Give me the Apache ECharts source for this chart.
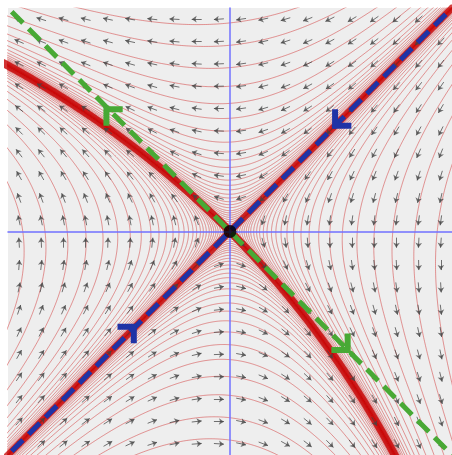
<!DOCTYPE html>
<html>
<head>
<meta charset="utf-8">
<script src="https://cdn.jsdelivr.net/npm/echarts@6/dist/echarts.min.js"></script>
<style>html,body{margin:0;padding:0;background:#fff;}#c{width:452px;height:455px;}</style>
</head>
<body>
<div id="c"></div>
<script>
// ---- data ----
const RANGE = [-3, 3];                 // plotted x / y range
const K = 0.17;                        // curvature of the unstable manifold
// vector field: x' = -y - K(x-y)^2/4 , y' = -x - K(x-y)^2/4
const arrowGrid = [-2.85,-2.55,-2.25,-1.95,-1.65,-1.35,-1.05,-0.75,-0.45,-0.15,0.15,0.45,0.75,1.05,1.35,1.65,1.95,2.25,2.55,2.85];
// distances from the origin at which streamlines cross each half-axis
const crossDist = [0.04,0.07,0.1,0.13,0.16,0.19,0.22,0.25,0.28,0.32,0.36,0.4,0.45,0.5,0.56,0.62,0.69,0.77,0.86,0.96,1.07,1.2,1.35,1.52,1.72,1.95,2.2,2.5,2.8];
const halfAxes = [[1,0],[-1,0],[0,1],[0,-1]];
// start points of the two manifold branches (forward in time for unstable, backward for stable)
const unstableSeeds = [[-0.005,0.005],[0.005,-0.005]];
const stableSeeds = [[0.005,0.005],[-0.005,-0.005]];
const stableLine = [[-2.95,-2.95],[2.92,2.92]];
const unstableLine = [[-2.95,2.95],[3.2,-3.2]];
const stableHeads = [{at:[1.42,1.42],dir:[-1,-1]},{at:[-1.3,-1.28],dir:[1,1]}];
const unstableHeads = [{at:[-1.67,1.64],dir:[-1,1]},{at:[1.59,-1.59],dir:[1,-1]}];

function field(x,y){const q=K*(x-y)*(x-y)/4;return [-y-q,-x-q];}

function integrate(x0,y0,sgn){
  const pts=[[x0,y0]];let x=x0,y=y0;const h=0.008*sgn;
  for(let i=0;i<4000;i++){
    const k1=field(x,y);
    const k2=field(x+h/2*k1[0],y+h/2*k1[1]);
    const k3=field(x+h/2*k2[0],y+h/2*k2[1]);
    const k4=field(x+h*k3[0],y+h*k3[1]);
    x+=h/6*(k1[0]+2*k2[0]+2*k3[0]+k4[0]);
    y+=h/6*(k1[1]+2*k2[1]+2*k3[1]+k4[1]);
    pts.push([x,y]);
    if(Math.abs(x)>3.4||Math.abs(y)>3.4)break;
  }
  return pts;
}

const streams=[];
halfAxes.forEach(d=>crossDist.forEach(r=>{
  const sx=d[0]*r,sy=d[1]*r;
  const b=integrate(sx,sy,-1).reverse();
  const f=integrate(sx,sy,1);
  streams.push({coords:b.concat(f.slice(1))});
}));
const unstableBand=unstableSeeds.map(p=>({coords:integrate(p[0],p[1],1)}));
const stableBand=stableSeeds.map(p=>({coords:integrate(p[0],p[1],-1)}));

const ALEN=0.135;
const arrows=[];
arrowGrid.forEach(ax=>arrowGrid.forEach(ay=>{
  const v=field(ax,ay);const n=Math.hypot(v[0],v[1])||1;
  const dx=v[0]/n*ALEN/2,dy=v[1]/n*ALEN/2;
  arrows.push({coords:[[ax-dx,ay-dy],[ax+dx,ay+dy]]});
}));

const ARM=0.22;
function chevron(hd){
  const [tx,ty]=hd.at;
  return [[tx-Math.sign(hd.dir[0])*ARM,ty],[tx,ty],[tx,ty-Math.sign(hd.dir[1])*ARM]];
}

const chart=echarts.init(document.getElementById('c'),null,{renderer:'canvas'});
const BLUE='#1f33a6',GREEN='#48a935';
const series=[
  {type:'lines',coordinateSystem:'cartesian2d',polyline:true,silent:true,z:1,clip:true,
   lineStyle:{color:'#c40000',opacity:0.8,width:8},data:unstableBand},
  {type:'lines',coordinateSystem:'cartesian2d',polyline:true,silent:true,z:1,clip:true,
   lineStyle:{color:'#c40000',opacity:0.75,width:7},data:stableBand},
  {type:'lines',coordinateSystem:'cartesian2d',polyline:true,silent:true,z:2,clip:true,
   lineStyle:{color:'#cc1010',opacity:0.42,width:1},data:streams},
  {type:'lines',coordinateSystem:'cartesian2d',silent:true,z:3,
   symbol:['none','arrow'],symbolSize:[4,5],
   lineStyle:{color:'#444444',opacity:0.75,width:1},data:arrows},
  {type:'line',data:stableLine,symbol:'none',z:6,silent:true,
   lineStyle:{color:BLUE,width:5,type:[16,8]}},
  {type:'line',data:unstableLine,symbol:'none',z:6,silent:true,
   lineStyle:{color:GREEN,width:5,type:[16,8]}},
];
stableHeads.forEach(hd=>series.push({type:'line',data:chevron(hd),symbol:'none',z:7,silent:true,
  lineStyle:{color:BLUE,width:6,join:'miter'}}));
unstableHeads.forEach(hd=>series.push({type:'line',data:chevron(hd),symbol:'none',z:7,silent:true,
  lineStyle:{color:GREEN,width:6,join:'miter'}}));
series.push({type:'scatter',data:[[0,0]],symbolSize:13,z:8,silent:true,itemStyle:{color:'#000'}});

const ax={type:'value',min:RANGE[0],max:RANGE[1],z:5,
  axisLine:{show:true,onZero:true,lineStyle:{color:'#7070ff',width:1.5}},
  axisTick:{show:false},axisLabel:{show:false},splitLine:{show:false}};
chart.setOption({
  animation:false,
  grid:{left:8,top:8,width:450,height:450,show:true,backgroundColor:'#eeeeee',borderWidth:0},
  xAxis:Object.assign({},ax),
  yAxis:Object.assign({},ax),
  series:series
});
</script>
</body>
</html>
